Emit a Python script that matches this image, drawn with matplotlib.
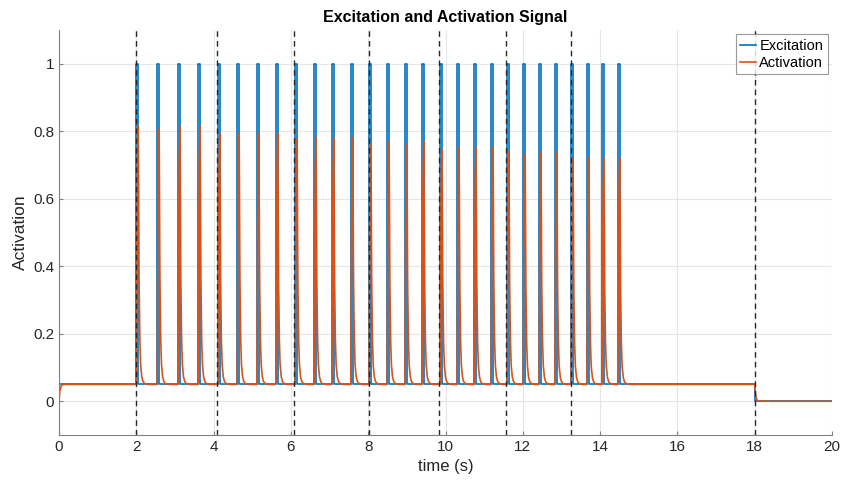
import numpy as np
import matplotlib.pyplot as plt

plt.rcParams['font.family'] = ['Liberation Sans', 'DejaVu Sans']

# pulse onset times (s) and the activation peak reached by each pulse
pulse_times = [2.00, 2.54, 3.08, 3.60, 4.11, 4.61, 5.12, 5.61, 6.11, 6.60,
               7.06, 7.55, 8.02, 8.49, 8.95, 9.39, 9.86, 10.30, 10.74, 11.18,
               11.59, 12.01, 12.42, 12.83, 13.25, 13.66, 14.05, 14.46]
act_peaks = [0.814, 0.806, 0.814, 0.814, 0.794, 0.794, 0.794, 0.794, 0.776, 0.781,
             0.781, 0.781, 0.762, 0.770, 0.762, 0.770, 0.747, 0.753, 0.753, 0.753,
             0.738, 0.730, 0.738, 0.738, 0.721, 0.722, 0.721, 0.721]
event_times = [2.00, 4.10, 6.08, 8.02, 9.83, 11.57, 13.25, 18.0]

baseline = 0.05
pulse_width = 0.05
t_off = 18.0
t_end = 20.0

# shape of the activation rise during a pulse and the decay after it
rise_dt = [0.0, 0.015, 0.03, 0.05]
rise_frac = [0.0, 0.55, 0.85, 1.0]
decay_dt = [0.0, 0.02, 0.04, 0.06, 0.09, 0.12, 0.16, 0.22]
decay_frac = [1.0, 0.42, 0.18, 0.08, 0.03, 0.012, 0.004, 0.0]
# activation at start-up and after excitation is switched off
start_dt = [0.0, 0.02, 0.05, 0.09, 0.15]
start_val = [0.0, 0.03, 0.044, 0.049, 0.05]
stop_dt = [0.0, 0.02, 0.04, 0.07, 0.12]
stop_val = [0.05, 0.022, 0.008, 0.002, 0.0]


def build_signals():
    ex_t, ex_y = [0.0], [baseline]
    ac_t = list(start_dt)
    ac_y = list(start_val)
    for t0, pk in zip(pulse_times, act_peaks):
        ex_t += [t0, t0, t0 + pulse_width, t0 + pulse_width]
        ex_y += [baseline, 1.0, 1.0, baseline]
        ac_t.append(t0)
        ac_y.append(baseline)
        for dt, f in zip(rise_dt[1:], rise_frac[1:]):
            ac_t.append(t0 + dt)
            ac_y.append(baseline + f * (pk - baseline))
        t1 = t0 + pulse_width
        for dt, f in zip(decay_dt[1:], decay_frac[1:]):
            ac_t.append(t1 + dt)
            ac_y.append(baseline + f * (pk - baseline))
    ex_t += [t_off, t_off, t_end]
    ex_y += [baseline, 0.0, 0.0]
    ac_t += [t_off + dt for dt in stop_dt] + [t_end]
    ac_y += stop_val + [0.0]
    return ex_t, ex_y, ac_t, ac_y


def main():
    ex_t, ex_y, ac_t, ac_y = build_signals()

    fig = plt.figure(figsize=(8.41, 4.86), dpi=100)
    ax = fig.add_axes([0.0702, 0.1049, 0.9191, 0.8334])

    ax.plot(ex_t, ex_y, color='#0072BD', linewidth=1.2, label='Excitation')
    ax.plot(ac_t, ac_y, color='#D95319', linewidth=1.2, label='Activation')
    for te in event_times:
        ax.axvline(te, color='#262626', linestyle=(0, (4, 3)), linewidth=1.0)

    ax.set_xlim(0, 20)
    ax.set_ylim(-0.1, 1.1)
    ax.set_xticks(np.arange(0, 21, 2))
    ax.set_yticks([0, 0.2, 0.4, 0.6, 0.8, 1])
    ax.set_yticklabels(['0', '0.2', '0.4', '0.6', '0.8', '1'])
    ax.grid(True, color='#e6e6e6', linewidth=0.8)
    ax.set_axisbelow(True)
    for side in ('top', 'right'):
        ax.spines[side].set_visible(False)
    for side in ('left', 'bottom'):
        ax.spines[side].set_color('#808080')
    ax.tick_params(direction='in', length=3, colors='#808080',
                   labelcolor='#262626', labelsize=11)

    ax.set_xlabel('time (s)', fontsize=12, color='#262626')
    ax.set_ylabel('Activation', fontsize=12.5, color='#262626')
    ax.set_title('Excitation and Activation Signal', fontsize=11.5,
                 fontweight='bold', family=['Liberation Sans Narrow', 'Liberation Sans'])

    leg = ax.legend(loc='upper right', fancybox=False,
                    prop={'family': ['Liberation Sans Narrow', 'Liberation Sans'], 'size': 10.5},
                    handlelength=1.1, handletextpad=0.2, borderpad=0.3,
                    labelspacing=0.2, borderaxespad=0.3)
    leg.get_frame().set_edgecolor('#808080')
    leg.get_frame().set_linewidth(0.8)

    fig.savefig('out.png', dpi=100)


if __name__ == "__main__":
    main()
